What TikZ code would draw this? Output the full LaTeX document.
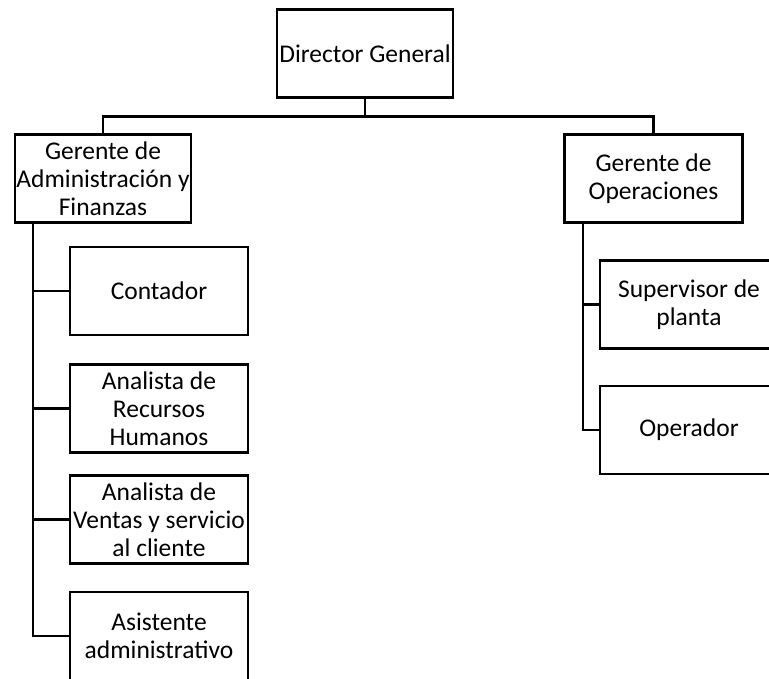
\documentclass[tikz,border=0pt]{standalone}
\usepackage{fontspec}
\setmainfont{Carlito}
\begin{document}
\begin{tikzpicture}[x=1pt,y=-1pt,
  box/.style={draw=black,line width=2.2pt,rectangle,inner sep=0pt,align=center,
    font=\fontsize{25.5}{28}\selectfont,minimum height=88pt},
  wa/.style={box,minimum width=176pt},
  wb/.style={box,minimum width=178pt},
  conn/.style={draw=black,line width=2.2pt}]
\useasboundingbox (0,0) rectangle (769,679);
\node[wa] (dir) at (365,53.5) {Director General};
\node[wa] (adm) at (103,178.5) {Gerente de\\Administración y\\Finanzas};
\node[wb] (ops) at (653.5,178.5) {Gerente de\\Operaciones};
\node[wb] (cont) at (159,291) {Contador};
\node[wb] (rh) at (159,408.5) {Analista de\\Recursos\\Humanos};
\node[wb] (ven) at (159,519.5) {Analista de\\Ventas y servicio\\al cliente};
\node[wb] (asi) at (159,636) {Asistente\\administrativo};
\node[wb] (sup) at (689,304.5) {Supervisor de\\planta};
\node[wb] (opr) at (689,430) {Operador};
\coordinate (bus) at ([yshift=-18pt]dir.south);
\coordinate (at) at ([xshift=-70pt]adm.south);
\coordinate (ot) at ([xshift=-70.5pt]ops.south);
\draw[conn] (dir.south) -- (bus) -| (adm.north);
\draw[conn] (bus) -| (ops.north);
\draw[conn] (at) |- (asi.west);
\draw[conn] (cont.west) -- (cont.west -| at);
\draw[conn] (rh.west) -- (rh.west -| at);
\draw[conn] (ven.west) -- (ven.west -| at);
\draw[conn] (ot) |- (opr.west);
\draw[conn] (sup.west) -- (sup.west -| ot);
\end{tikzpicture}
\end{document}
